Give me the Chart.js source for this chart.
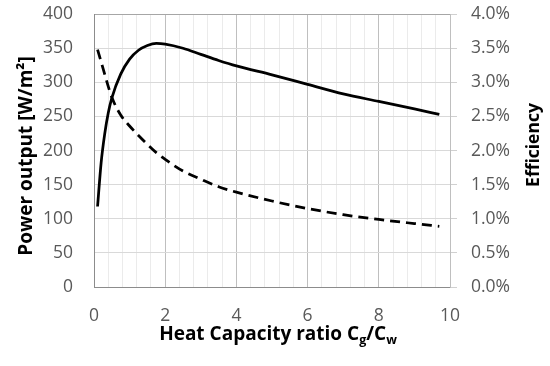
<!DOCTYPE html>
<html><head><meta charset="utf-8">
<script src="https://cdn.jsdelivr.net/npm/chart.js@4/dist/chart.umd.min.js"></script>
<style>html,body{margin:0;padding:0;background:#fff}#wrap{width:550px;height:366px}</style>
</head><body><div id="wrap"><canvas id="c" width="550" height="366"></canvas></div>
<script>
// ---- data ----
const ratio = [0.1,0.2,0.3,0.4,0.5,0.75,1,1.25,1.5,1.75,2,2.5,3,3.5,4,5,6,7,8,9,9.7];
const powerOutput = [118,182,224,255,277,312,334,347,354,357,356,350,341,332,324,311,297,283,272,261,253];
const efficiency = [3.48,3.30,3.12,2.94,2.78,2.52,2.36,2.22,2.09,1.97,1.87,1.70,1.58,1.47,1.39,1.26,1.15,1.06,0.99,0.93,0.89];
const xMajorTicks = [0,2,4,6,8,10];
const powerRange = [0,400];
const effRange = [0,4];
const leftTitle = 'Power output [W/m\u00B2]';
const rightTitle = 'Efficiency';
const xTitleParts = [['Heat Capacity ratio C',false],['g',true],['/C',false],['w',true]];

const FONT = "'Open Sans', sans-serif";
const TICK_COLOR = '#595959';
const isMajor = v => xMajorTicks.some(m => Math.abs(m - v) < 1e-6);

const titlePlugin = {
  id: 'titles',
  afterDraw(chart) {
    const ctx = chart.ctx;
    ctx.save();
    ctx.fillStyle = '#000';
    ctx.textAlign = 'center';
    ctx.textBaseline = 'middle';
    // left title
    ctx.font = "bold 19px " + FONT;
    ctx.save();
    ctx.translate(27, 156);
    ctx.rotate(-Math.PI/2);
    ctx.fillText(leftTitle, 0, 0);
    ctx.restore();
    // right title
    ctx.font = "bold 17.5px " + FONT;
    ctx.save();
    ctx.translate(534, 145);
    ctx.rotate(-Math.PI/2);
    ctx.fillText(rightTitle, 0, 0);
    ctx.restore();
    // bottom title with subscripts
    const big = "bold 19px " + FONT, small = "bold 12.5px " + FONT;
    let total = 0;
    xTitleParts.forEach(([t, sub]) => { ctx.font = sub ? small : big; total += ctx.measureText(t).width; });
    let x = 278 - total/2;
    const base = 340;
    ctx.textAlign = 'left';
    ctx.textBaseline = 'alphabetic';
    xTitleParts.forEach(([t, sub]) => {
      ctx.font = sub ? small : big;
      ctx.fillText(t, x, sub ? base + 4 : base);
      x += ctx.measureText(t).width;
    });
    ctx.restore();
  }
};

new Chart(document.getElementById('c'), {
  type: 'line',
  data: {
    datasets: [
      {
        label: 'Power output',
        data: ratio.map((x, i) => ({x, y: powerOutput[i]})),
        yAxisID: 'y',
        borderColor: '#000',
        borderWidth: 2.75,
        pointRadius: 0,
        fill: false,
        cubicInterpolationMode: 'monotone'
      },
      {
        label: 'Efficiency',
        data: ratio.map((x, i) => ({x, y: efficiency[i]})),
        yAxisID: 'y1',
        borderColor: '#000',
        borderWidth: 2.75,
        borderDash: [10, 6],
        pointRadius: 0,
        fill: false,
        cubicInterpolationMode: 'monotone'
      }
    ]
  },
  options: {
    responsive: false,
    animation: false,
    devicePixelRatio: 1,
    layout: { padding: { top: 14, left: 0, right: 0, bottom: 0 } },
    plugins: { legend: { display: false }, tooltip: { enabled: false } },
    scales: {
      x: {
        type: 'linear',
        position: 'bottom',
        min: xMajorTicks[0],
        max: xMajorTicks[xMajorTicks.length - 1],
        ticks: {
          stepSize: 0.4,
          autoSkip: false,
          maxRotation: 0,
          color: TICK_COLOR,
          font: { family: FONT, size: 17.5 },
          padding: 19,
          callback: v => isMajor(v) ? String(Math.round(v)) : ''
        },
        grid: {
          drawTicks: false,
          color: c => {
            const v = c.tick.value;
            if (Math.abs(v) < 1e-6) return '#8c8c8c';
            if (Math.abs(v - 10) < 1e-6) return '#bfbfbf';
            return isMajor(v) ? '#bfbfbf' : '#ebebeb';
          }
        },
        border: { color: '#8c8c8c' },
        afterFit: s => { s.height = 79; }
      },
      y: {
        position: 'left',
        min: powerRange[0],
        max: powerRange[1],
        ticks: {
          stepSize: 50,
          color: TICK_COLOR,
          font: { family: FONT, size: 17.5 },
          padding: 0
        },
        grid: {
          drawTicks: true,
          tickLength: 21,
          tickColor: 'rgba(0,0,0,0)',
          color: c => {
            const v = c.tick.value;
            if (v === powerRange[1]) return '#a6a6a6';
            if (v === 0) return '#8c8c8c';
            return '#d9d9d9';
          }
        },
        border: { color: '#8c8c8c' },
        afterFit: s => { s.width = 94; }
      },
      y1: {
        position: 'right',
        min: effRange[0],
        max: effRange[1],
        ticks: {
          stepSize: 0.5,
          color: TICK_COLOR,
          font: { family: FONT, size: 17.5, lineHeight: 0.01 },
          padding: 14,
          callback: v => v.toFixed(1) + '%'
        },
        grid: {
          drawOnChartArea: false,
          drawTicks: true,
          tickLength: 7,
          color: '#d0d0d0'
        },
        border: { color: '#bfbfbf' },
        afterFit: s => { s.width = 100; }
      }
    }
  },
  plugins: [titlePlugin]
});
</script>
</body></html>
